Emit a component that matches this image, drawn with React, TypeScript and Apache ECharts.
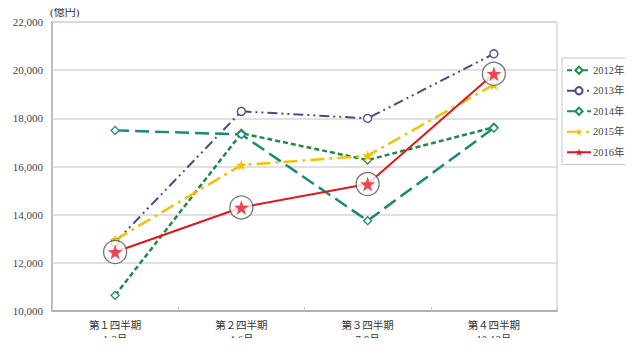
import React, { useEffect, useRef } from "react";
import * as echarts from "echarts";

const quarters = ["第１四半期", "第２四半期", "第３四半期", "第４四半期"];
const months = ["1-3月", "4-6月", "7-9月", "10-12月"];
const years = ["2012年", "2013年", "2014年", "2015年", "2016年"];

const v2012 = [10650, 17380, 16270, 17630];
const v2013 = [12850, 18290, 18000, 20680];
const v2014 = [17500, 17330, 13750, 17600];
const v2015 = [12950, 16060, 16450, 19400];
const v2016 = [12450, 14300, 15270, 19850];

const STAR =
  "path://M0,-10 L2.35,-3.24 L9.51,-3.09 L3.80,1.24 L5.88,8.09 L0,4 L-5.88,8.09 L-3.80,1.24 L-9.51,-3.09 L-2.35,-3.24 Z";
const DIAMOND = "path://M0,-6 L5,0 L0,6 L-5,0 Z";

const FONT = "'Liberation Serif', 'DejaVu Serif', 'Noto Sans CJK JP', serif";

export default function App() {
  const ref = useRef<HTMLDivElement>(null);
  useEffect(() => {
    const chart = echarts.init(ref.current!, null, { renderer: "svg" });
    const mkLine = (
      name: string,
      data: number[],
      color: string,
      dash: any,
      width: number,
      symbol: string,
      size: number,
      filled: boolean
    ) => ({
      name,
      type: "line",
      data,
      symbol,
      symbolSize: size,
      z: 2,
      lineStyle: { color, width, type: dash },
      itemStyle: {
        color: filled ? color : "#ffffff",
        borderColor: color,
        borderWidth: filled ? 0 : 1.3,
      },
      emphasis: { disabled: true },
    });
    chart.setOption({
      animation: false,
      backgroundColor: "#ffffff",
      textStyle: { fontFamily: FONT },
      grid: {
        left: 52,
        right: 76,
        top: 22,
        bottom: 32,
        show: true,
        borderColor: "#c4c4c4",
        borderWidth: 1,
      },
      legend: {
        orient: "vertical",
        left: 562,
        top: 58,
        data: years,
        itemWidth: 24,
        itemHeight: 9,
        itemGap: 10,
        padding: [7, 8, 7, 4],
        borderColor: "#c8c8c8",
        borderWidth: 1,
        textStyle: { fontFamily: FONT, fontSize: 10.5, color: "#444", padding: [0, 0, 0, -3] },
      },
      xAxis: {
        type: "category",
        data: quarters,
        boundaryGap: true,
        axisLine: { lineStyle: { color: "#b0b0b0", width: 2 } },
        axisTick: { show: true, inside: true, length: 4, lineStyle: { color: "#c8c8c8" } },
        axisLabel: {
          fontFamily: FONT,
          fontSize: 10.5,
          color: "#333",
          lineHeight: 14,
          margin: 7,
          formatter: (v: string, i: number) => v + "\n" + months[i],
        },
      },
      yAxis: {
        type: "value",
        min: 10000,
        max: 22000,
        interval: 2000,
        name: "(億円)",
        nameLocation: "end",
        nameGap: 5,
        nameTextStyle: { fontFamily: FONT, fontSize: 11, color: "#333", align: "left", padding: [0, 0, 0, -2] },
        axisLine: { show: true, lineStyle: { color: "#b0b0b0", width: 1.5 } },
        axisTick: { show: false },
        axisLabel: {
          fontFamily: FONT,
          fontSize: 11,
          color: "#444",
          margin: 9,
          formatter: (v: number) => v.toLocaleString("en-US"),
        },
        splitLine: { lineStyle: { color: "#d6d6d6", width: 1.5 } },
      },
      series: [
        mkLine(years[0], v2012, "#1e8a4a", [5, 3], 2.5, DIAMOND, 8, false),
        mkLine(years[1], v2013, "#4a4a88", [10, 4, 2, 4, 2, 4], 2, "circle", 8, false),
        mkLine(years[2], v2014, "#178a78", [14, 6], 2.5, DIAMOND, 8, false),
        mkLine(years[3], v2015, "#f2c200", [14, 5, 3, 5], 2.5, STAR, 11, true),
        mkLine(years[4], v2016, "#e8141c", "solid", 2, STAR, 10, true),
        {
          name: "circ",
          type: "scatter",
          data: v2016,
          symbol: "circle",
          symbolSize: 23,
          z: 3,
          itemStyle: { color: "#ffffff", borderColor: "#555555", borderWidth: 1.3 },
          emphasis: { disabled: true },
        },
        {
          name: "star",
          type: "scatter",
          data: v2016,
          symbol: STAR,
          symbolSize: 15,
          z: 4,
          itemStyle: { color: "#e8202a" },
          emphasis: { disabled: true },
        },
      ],
    });
    return () => chart.dispose();
  }, []);
  return <div ref={ref} style={{ width: 633, height: 346, margin: -8 }} />;
}
